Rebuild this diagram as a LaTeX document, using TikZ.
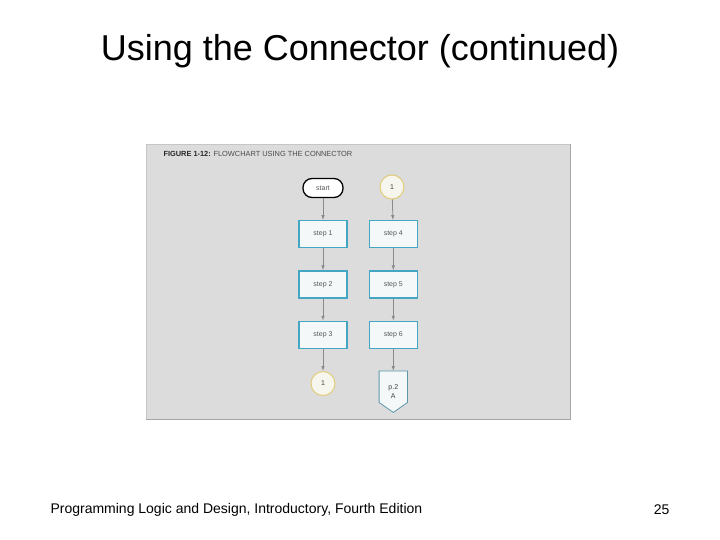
\documentclass[tikz,border=0pt]{standalone}
\usepackage{fontspec}
\setmainfont{Liberation Sans}
\usetikzlibrary{arrows.meta, positioning}

\definecolor{panelgray}{HTML}{DCDCDC}
\definecolor{boxline}{HTML}{45A6C4}
\definecolor{boxfill}{HTML}{F4F8F9}
\definecolor{connline}{HTML}{E2CC78}
\definecolor{connfill}{HTML}{F6F5EE}
\definecolor{flowgray}{HTML}{8A8A8A}

\begin{document}
\begin{tikzpicture}[
    x=1pt, y=-1pt,
    node distance=22pt,
    stepbox/.style={rectangle, draw=boxline, fill=boxfill, line width=1.3pt, minimum width=48pt, minimum height=27pt, font=\fontsize{7}{8}\selectfont, text=black!65},
    terminal/.style={rectangle, rounded corners=9pt, draw=black, fill=white, line width=1.3pt, minimum width=40pt, minimum height=19pt, font=\fontsize{7}{8}\selectfont, text=black!65},
    conn/.style={circle, draw=connline, fill=connfill, line width=1pt, minimum size=24pt, inner sep=0pt, font=\fontsize{7}{8}\selectfont, text=black!75},
    pagebox/.style={rectangle, minimum width=28pt, minimum height=41pt, inner sep=0pt, align=center, font=\fontsize{7}{8}\selectfont, text=black!75},
    arrow/.style={draw=flowgray, line width=0.8pt, -{Latex[length=5pt, width=3.5pt]}}
]
\useasboundingbox[fill=white] (0,0) rectangle (720,540);

% slide text
\node[font=\fontsize{36}{42}\selectfont] (title) at (360,51) {Using the Connector (continued)};
\node[anchor=west, font=\fontsize{14}{16}\selectfont] (footer) at (47,510) {Programming Logic and Design, Introductory, Fourth Edition};
\node[anchor=east, font=\fontsize{14}{16}\selectfont] (pagenum) at (673,510) {25};

% figure panel
\fill[panelgray] (146,144) rectangle (570,419);
\draw[gray!70, line width=0.8pt] (146,419) -- (570,419) -- (570,144);
\draw[gray!45, line width=0.5pt] (146,419) -- (146,144) -- (570,144);
\node[anchor=west, font=\fontsize{7.4}{8}\selectfont, text=black!70] (caption) at (160,154)
    {\textbf{\color{black!85}FIGURE 1-12:} FLOWCHART USING THE CONNECTOR};

% left column
\node[terminal] (start) at (323,188) {start};
\node[stepbox, below=of start] (step1) {step 1};
\node[stepbox, below=of step1] (step2) {step 2};
\node[stepbox, below=of step2] (step3) {step 3};
\node[conn, below=of step3] (out1) {1};

% right column
\node[conn] (in1) at (392,187) {1};
\node[stepbox, right=21pt of step1] (step4) {step 4};
\node[stepbox, right=21pt of step2] (step5) {step 5};
\node[stepbox, right=21pt of step3] (step6) {step 6};
\node[pagebox, below=of step6] (offpage) {};
\draw[draw=boxline!60!gray, fill=boxfill, line width=0.8pt]
    (offpage.north west) -- (offpage.north east) -- ([yshift=10pt]offpage.south east)
    -- (offpage.south) -- ([yshift=10pt]offpage.south west) -- cycle;
\node[pagebox] (offtext) at (offpage) {p.2\\[1pt]A};

\draw[arrow] (start) -- (step1);
\draw[arrow] (step1) -- (step2);
\draw[arrow] (step2) -- (step3);
\draw[arrow] (step3) -- (out1);
\draw[arrow] (in1) -- (step4);
\draw[arrow] (step4) -- (step5);
\draw[arrow] (step5) -- (step6);
\draw[arrow] (step6) -- (offpage);
\end{tikzpicture}
\end{document}
